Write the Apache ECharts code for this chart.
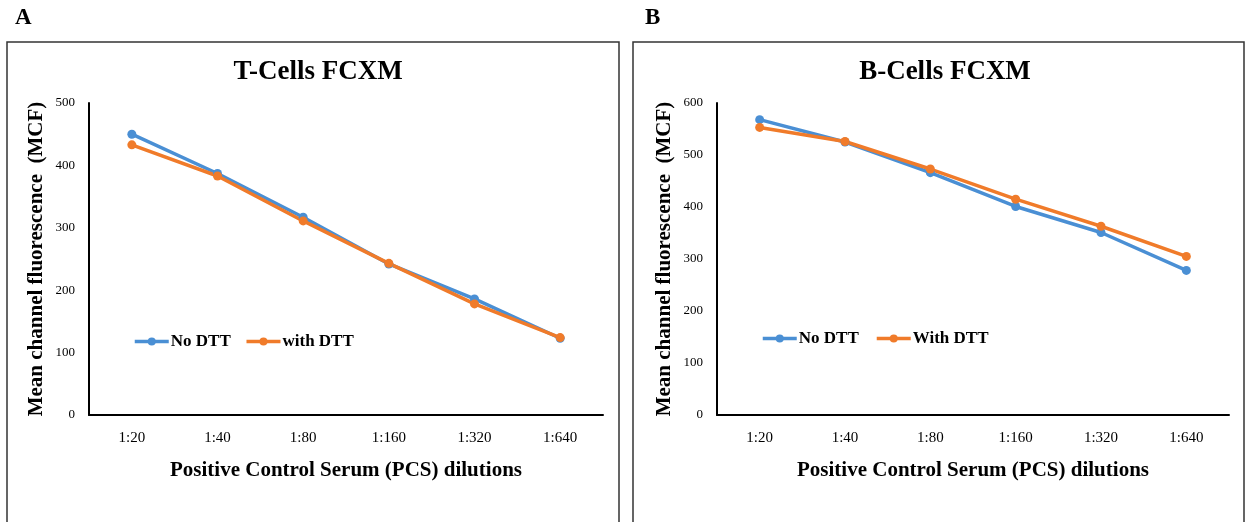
<!DOCTYPE html>
<html>
<head>
<meta charset="utf-8">
<script src="https://cdn.jsdelivr.net/npm/echarts@6/dist/echarts.min.js"></script>
<style>html,body{margin:0;padding:0;background:#fff;}#c{width:1250px;height:522px;}</style>
</head>
<body>
<div id="c"></div>
<script>
const categories = ['1:20', '1:40', '1:80', '1:160', '1:320', '1:640'];
const tNoDTT = [450, 387, 317, 242, 186, 123];
const tWithDTT = [433, 383, 311, 243, 178, 124];
const bNoDTT = [568, 525, 466, 401, 351, 278];
const bWithDTT = [553, 526, 473, 415, 363, 305];
const tTicks = [0, 100, 200, 300, 400, 500];
const bTicks = [0, 100, 200, 300, 400, 500, 600];

const BLUE = '#4a8fd4';
const ORANGE = '#f07b2a';
const serif = '"Liberation Serif", "DejaVu Serif", serif';

const chart = echarts.init(document.getElementById('c'), null, {renderer: 'canvas'});

function xAxis(gi) {
  return {
    type: 'category', gridIndex: gi, data: categories, boundaryGap: true,
    axisLine: {lineStyle: {color: '#000', width: 2}},
    axisTick: {show: false},
    axisLabel: {color: '#000', fontFamily: serif, fontSize: 15, margin: 16},
    name: 'Positive Control Serum (PCS) dilutions', nameLocation: 'middle', nameGap: 45,
    nameTextStyle: {color: '#000', fontFamily: serif, fontSize: 21, fontWeight: 'bold'}
  };
}
function yAxis(gi, max, nameGap) {
  return {
    type: 'value', gridIndex: gi, min: 0, max: max, interval: 100,
    axisLine: {show: true, lineStyle: {color: '#000', width: 2}},
    axisTick: {show: false},
    splitLine: {show: false},
    axisLabel: {color: '#000', fontFamily: serif, fontSize: 13, margin: 14},
    name: 'Mean channel fluorescence  (MCF)', nameLocation: 'middle', nameGap: nameGap,
    nameTextStyle: {color: '#000', fontFamily: serif, fontSize: 21, fontWeight: 'bold'}
  };
}
function line(name, data, color, gi) {
  return {
    type: 'line', name: name, data: data, xAxisIndex: gi, yAxisIndex: gi,
    symbol: 'circle', symbolSize: 9,
    lineStyle: {color: color, width: 3.5},
    itemStyle: {color: color},
    emphasis: {disabled: true}, animation: false
  };
}

const legendText = {color: '#000', fontFamily: serif, fontSize: 17, fontWeight: 'bold', padding: [0, 0, 0, -3]};

chart.setOption({
  animation: false,
  title: [
    {text: 'T-Cells FCXM', left: 313, top: 54, textAlign: 'center',
     textStyle: {fontFamily: serif, fontSize: 27, fontWeight: 'bold', color: '#000'}},
    {text: 'B-Cells FCXM', left: 940, top: 54, textAlign: 'center',
     textStyle: {fontFamily: serif, fontSize: 27, fontWeight: 'bold', color: '#000'}}
  ],
  graphic: [
    {type: 'rect', shape: {x: 7, y: 42, width: 612, height: 500}, style: {fill: 'none', stroke: '#333', lineWidth: 1.5}},
    {type: 'rect', shape: {x: 633, y: 42, width: 611, height: 500}, style: {fill: 'none', stroke: '#333', lineWidth: 1.5}},
    {type: 'text', left: 15, top: 7, style: {text: 'A', font: 'bold 23px ' + serif, fill: '#000'}},
    {type: 'text', left: 645, top: 7, style: {text: 'B', font: 'bold 23px ' + serif, fill: '#000'}}
  ],
  legend: [
    {data: ['No DTT', 'with DTT'], left: 128, top: 328, itemWidth: 34, itemHeight: 10, itemGap: 14,
     lineStyle: {width: 3.5}, textStyle: legendText},
    {data: ['No DTT ', 'With DTT'], left: 756, top: 325, itemWidth: 34, itemHeight: 10, itemGap: 12,
     lineStyle: {width: 3.5}, textStyle: legendText}
  ],
  grid: [
    {left: 89, top: 103, width: 514, height: 312},
    {left: 717, top: 103, width: 512, height: 312}
  ],
  xAxis: [xAxis(0), xAxis(1)],
  yAxis: [yAxis(0, tTicks[tTicks.length - 1], 42), yAxis(1, bTicks[bTicks.length - 1], 42)],
  series: [
    line('No DTT', tNoDTT, BLUE, 0),
    line('with DTT', tWithDTT, ORANGE, 0),
    line('No DTT ', bNoDTT, BLUE, 1),
    line('With DTT', bWithDTT, ORANGE, 1)
  ]
});
</script>
</body>
</html>
